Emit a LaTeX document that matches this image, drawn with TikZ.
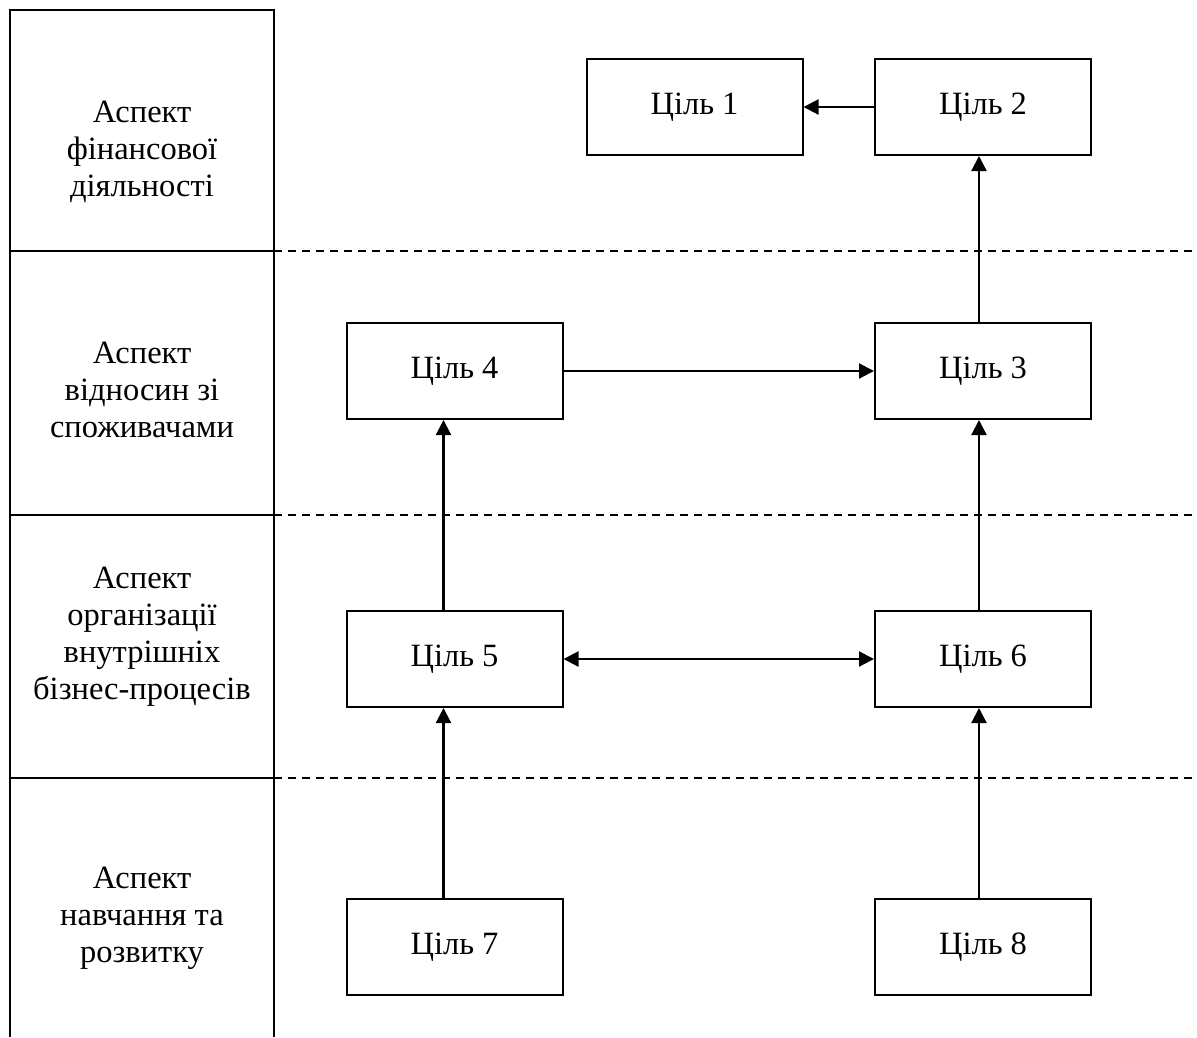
\documentclass[tikz,border=0pt]{standalone}
\usepackage{fontspec}
\setmainfont{Liberation Serif}
\usepackage{tikz}
\usetikzlibrary{arrows.meta}

\tikzset{
  goal/.style={draw, line width=2pt, minimum width=216pt, minimum height=96pt,
    inner sep=0pt, font=\fontsize{32.5}{38}\selectfont},
  aspect/.style={align=center, font=\fontsize{32.5}{37}\selectfont},
  link/.style={line width=2.2pt, -{Triangle[length=15pt,width=15pt]}},
  sep/.style={line width=1.8pt, dash pattern=on 8pt off 6pt}
}

\begin{document}
\begin{tikzpicture}[x=1pt, y=-1pt]
    \useasboundingbox (0, 0) rectangle (1197, 1037);
    % aspect column
    \draw[line width=2.4pt] (10, 1037) -- (10, 10) -- (274, 10) -- (274, 1037);
    \draw[line width=2.4pt] (10, 251) -- (274, 251);
    \draw[line width=2.4pt] (10, 515) -- (274, 515);
    \draw[line width=2.4pt] (10, 778) -- (274, 778);
    % dashed separators
    \draw[sep] (274, 251) -- (1197, 251);
    \draw[sep] (274, 515) -- (1197, 515);
    \draw[sep] (274, 778) -- (1197, 778);

    % aspect labels
    \node[aspect] (fin) at (142, 152) {Аспект\\фінансової\\діяльності};
    \node[aspect] (cust) at (142, 390) {Аспект\\відносин зі\\споживачами};
    \node[aspect] (proc) at (142, 637) {Аспект\\організації\\внутрішніх\\бізнес-процесів};
    \node[aspect] (learn) at (142, 918) {Аспект\\навчання та\\розвитку};

    % goals
    \node[goal] (g1) at (694.5, 107) {Ціль 1};
    \node[goal] (g2) at (983, 107) {Ціль 2};
    \node[goal] (g4) at (454.5, 371) {Ціль 4};
    \node[goal] (g3) at (983, 371) {Ціль 3};
    \node[goal] (g5) at (454.5, 659) {Ціль 5};
    \node[goal] (g6) at (983, 659) {Ціль 6};
    \node[goal] (g7) at (454.5, 947) {Ціль 7};
    \node[goal] (g8) at (983, 947) {Ціль 8};

    % links
    \draw[link] (g2) -- (g1);
    \draw[link] ([xshift=-4pt]g3.north) -- ([xshift=-4pt]g2.south);
    \draw[link] (g4) -- (g3);
    \draw[link] ([xshift=-4pt]g6.north) -- ([xshift=-4pt]g3.south);
    \draw[link, {Triangle[length=15pt,width=15pt]}-{Triangle[length=15pt,width=15pt]}] (g5) -- (g6);
    \draw[link] ([xshift=-11pt]g5.north) -- ([xshift=-11pt]g4.south);
    \draw[link] ([xshift=-11pt]g7.north) -- ([xshift=-11pt]g5.south);
    \draw[link] ([xshift=-4pt]g8.north) -- ([xshift=-4pt]g6.south);

\end{tikzpicture}
\end{document}
